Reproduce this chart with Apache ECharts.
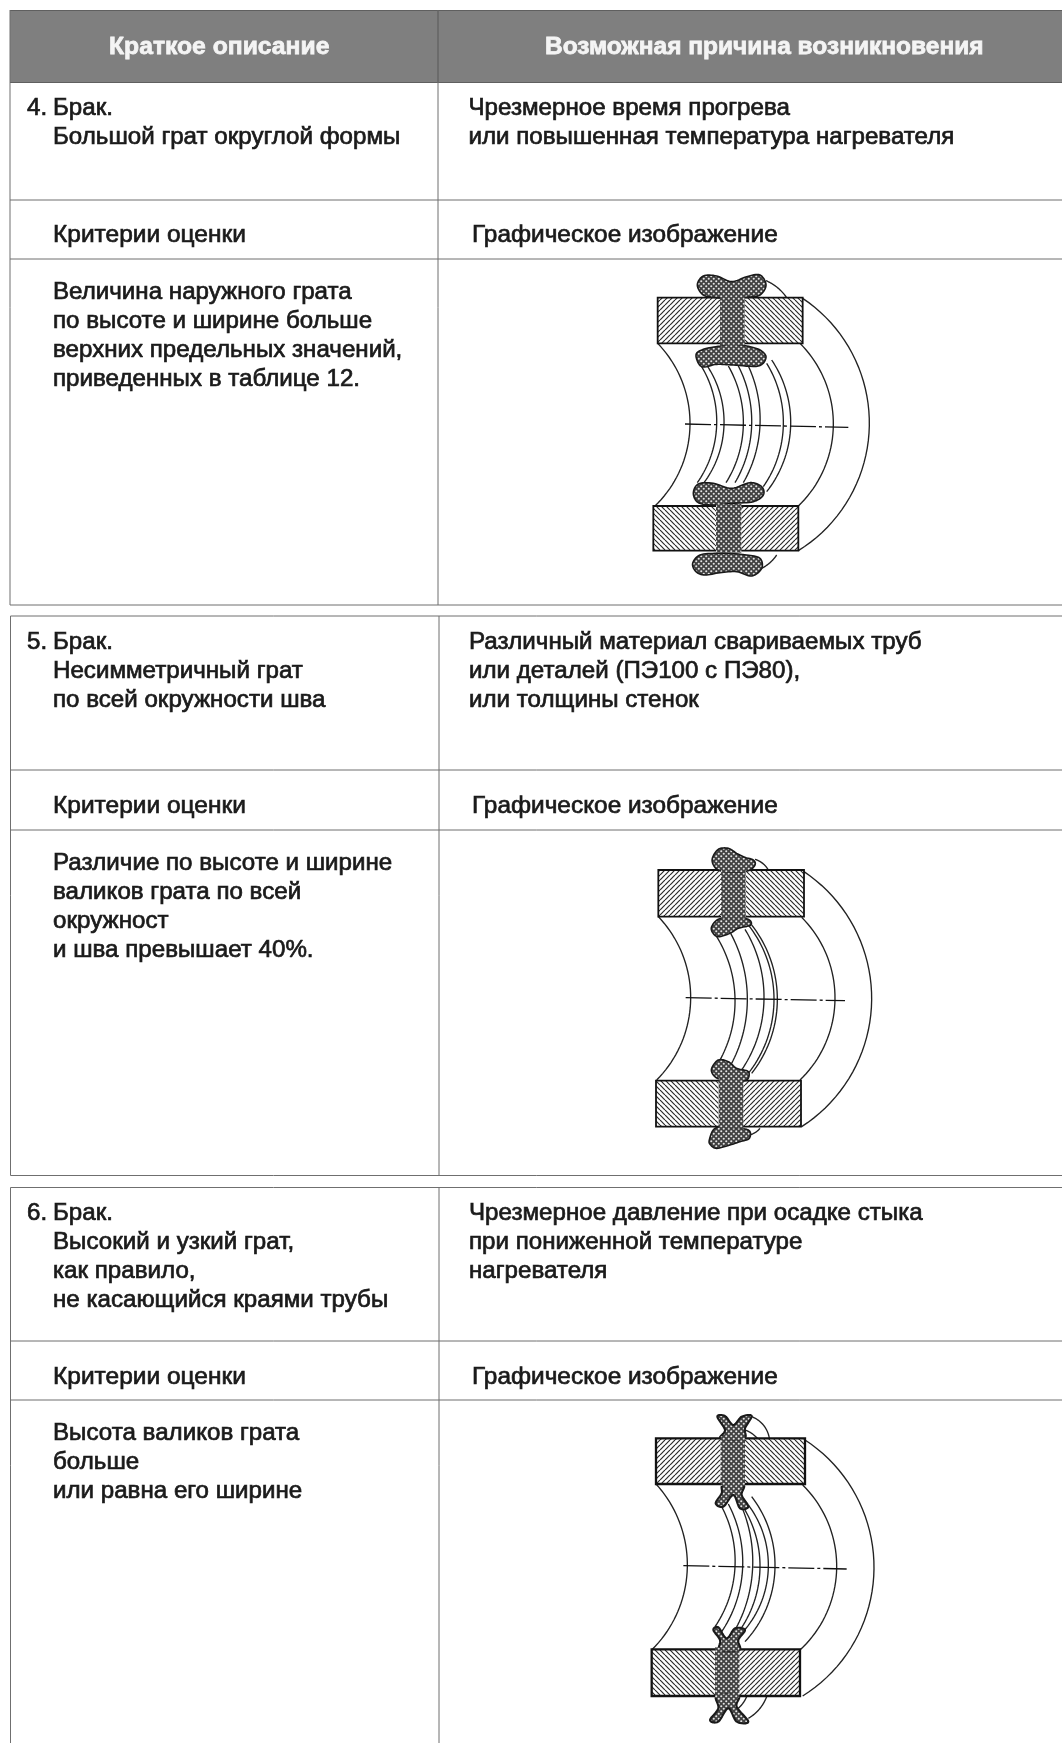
<!DOCTYPE html>
<html><head><meta charset="utf-8">
<style>html,body{margin:0;padding:0;background:#fff}#c{width:1062px;height:1743px;filter:blur(0.45px)}</style>
<script src="https://cdn.jsdelivr.net/npm/echarts@6/dist/echarts.min.js"></script>
</head><body><div id="c"></div>
<script>
const headers = ['Краткое описание','Возможная причина возникновения'];
const criteriaLabel = 'Критерии оценки';
const imageLabel = 'Графическое изображение';
const titles = [
  ['4. Брак.','Большой грат округлой формы'],
  ['5. Брак.','Несимметричный грат','по всей окружности шва'],
  ['6. Брак.','Высокий и узкий грат,','как правило,','не касающийся краями трубы']
];
const causes = [
  ['Чрезмерное время прогрева','или повышенная температура нагревателя'],
  ['Различный материал свариваемых труб','или деталей (ПЭ100 с ПЭ80),','или толщины стенок'],
  ['Чрезмерное давление при осадке стыка','при пониженной температуре','нагревателя']
];
const criteria = [
  ['Величина наружного грата','по высоте и ширине больше','верхних предельных значений,','приведенных в таблице 12.'],
  ['Различие по высоте и ширине','валиков грата по всей','окружност','и шва превышает 40%.'],
  ['Высота валиков грата','больше','или равна его ширине']
];
const blocks = [
  {top:10, r1:200, r2:259, bottom:605, b1:116, bc:243, bd:300, lx:10, dx:438, cx:468.5},
  {top:616, r1:770, r2:830, bottom:1175.5, b1:650, bc:814, bd:871, lx:10.5, dx:439, cx:469},
  {top:1187.5, r1:1341, r2:1400, bottom:null, b1:1221, bc:1385, bd:1441, lx:10.5, dx:439, cx:469}
];
const figures = [
 {o:[620,260], bw:1.6, top:[113,113,548,250], bot:[100,738,535,872], coreTop:[300,374], coreBot:[288,364],
  center:[195,492,685,502],
  arcs:[[548,115,748,495,535,872],[113,250,210,495,105,738],[540,250,640,495,535,738],
        [245,320,290,495,232,668],[262,318,312,495,252,668],[325,318,370,495,318,668],[355,318,395,495,345,668],[385,318,420,495,370,668],[440,310,490,495,430,680],[455,300,512,495,440,695],
        [438,62,475,85,500,113],[425,925,450,908,470,885]],
  blobs:[
   [[232,75],[250,48],[290,48],[335,65],[380,50],[420,45],[438,75],[420,105],[380,112],[335,115],[290,113],[250,105]],
   [[228,285],[250,268],[300,258],[335,252],[380,258],[420,270],[438,292],[415,318],[340,315],[290,313],[245,320]],
   [[220,700],[235,672],[280,670],[335,685],[390,668],[425,680],[430,705],[400,725],[340,730],[280,735],[235,728]],
   [[218,910],[240,885],[290,880],[330,880],[380,885],[420,895],[425,925],[395,948],[350,935],[300,938],[255,945],[228,935]]
  ]},
 {o:[620,830], bw:1.6, top:[115,120,552,260], bot:[108,752,543,890], coreTop:[303,377], coreBot:[296,370],
  center:[197,503,675,512],
  arcs:[[552,125,755,505,545,890],[115,260,212,505,110,750],[545,262,645,505,540,750],
        [290,320,345,505,300,690],[332,310,382,505,335,700],[375,298,432,505,365,720],[385,285,462,505,385,730],[395,285,472,505,395,730],
        [405,88,428,100,445,120],[388,915,405,908,420,895]],
  blobs:[
   [[277,85],[295,58],[325,55],[350,70],[375,82],[400,90],[405,105],[385,122],[340,125],[300,122],[282,108]],
   [[275,290],[295,268],[340,262],[385,268],[392,285],[355,295],[330,310],[295,320],[278,308]],
   [[275,715],[295,690],[325,695],[350,715],[385,725],[380,750],[340,752],[300,748],[280,735]],
   [[268,930],[285,895],[330,893],[385,900],[388,925],[360,935],[330,945],[290,955],[272,945]]
  ]},
 {o:[620,1400], bw:2.1, top:[108,115,555,252], bot:[95,748,540,888], coreTop:[302,375], coreBot:[285,358],
  center:[190,497,680,507],
  arcs:[[555,120,762,500,548,888],[108,252,202,500,97,748],[548,255,650,505,540,750],
        [305,320,345,500,285,680],[325,312,368,500,305,695],[365,320,398,500,345,690],[372,325,420,500,360,690],[385,315,445,500,365,700],[395,290,465,500,375,725],
        [395,50,430,75,448,115],[375,90,395,100,412,115],[385,955,420,925,440,890],[355,925,370,908,380,890]],
  blobs:[
   [[302,115],[315,90],[292,50],[315,48],[340,75],[365,50],[395,48],[375,85],[372,115]],
   [[310,255],[305,280],[287,310],[310,320],[340,285],[360,325],[385,320],[365,285],[370,255]],
   [[280,690],[295,682],[320,715],[345,685],[375,690],[355,720],[358,750],[300,750],[300,720]],
   [[290,888],[295,925],[270,960],[295,965],[325,925],[350,965],[385,965],[350,920],[355,888]]
  ]}
];

const INK='#1a1a1a', LINE='#6f6f6f', FONT='"Liberation Sans", Arial, sans-serif', FS=24.15, LABEL=24.5, LH=29;

function hatch(dir){
  const s=5,c=document.createElement('canvas');c.width=c.height=s;const g=c.getContext('2d');
  g.fillStyle='#fff';g.fillRect(0,0,s,s);g.strokeStyle='#2a2a2a';g.lineWidth=1.15;
  for(let k=-s;k<=s;k+=s){g.beginPath();
    if(dir>0){g.moveTo(k,s);g.lineTo(k+s,0);}else{g.moveTo(k,0);g.lineTo(k+s,s);}
    g.stroke();}
  return {image:c,repeat:'repeat'};
}
function weld(){
  const s=5,c=document.createElement('canvas');c.width=c.height=s;const g=c.getContext('2d');
  g.fillStyle='#404040';g.fillRect(0,0,s,s);g.fillStyle='#e4e4e4';
  [[1.25,1.25],[3.75,3.75]].forEach(p=>{g.beginPath();g.arc(p[0],p[1],1.05,0,7);g.fill();});
  return {image:c,repeat:'repeat'};
}
const hatchA=hatch(1),hatchB=hatch(-1),weldFill=weld();

function arcPoints(a){
  const [x0,y0,x1,y1,x2,y2]=a;
  const d=2*(x0*(y1-y2)+x1*(y2-y0)+x2*(y0-y1));
  const n0=x0*x0+y0*y0,n1=x1*x1+y1*y1,n2=x2*x2+y2*y2;
  const ux=(n0*(y1-y2)+n1*(y2-y0)+n2*(y0-y1))/d, uy=(n0*(x2-x1)+n1*(x0-x2)+n2*(x1-x0))/d;
  const r=Math.hypot(x0-ux,y0-uy);
  let t0=Math.atan2(y0-uy,x0-ux),t1=Math.atan2(y1-uy,x1-ux),t2=Math.atan2(y2-uy,x2-ux);
  const norm=t=>{while(t<0)t+=2*Math.PI;while(t>=2*Math.PI)t-=2*Math.PI;return t;};
  let dm=norm(t1-t0),de=norm(t2-t0);
  const sweep=dm<de?de:de-2*Math.PI;
  const out=[];for(let i=0;i<=40;i++){const t=t0+sweep*i/40;out.push([ux+r*Math.cos(t),uy+r*Math.sin(t)]);}
  return out;
}
function smoothClosed(pts){
  const n=pts.length,out=[];
  for(let i=0;i<n;i++){
    const p0=pts[(i-1+n)%n],p1=pts[i],p2=pts[(i+1)%n],p3=pts[(i+2)%n];
    for(let k=0;k<8;k++){const t=k/8,t2=t*t,t3=t2*t;
      out.push([0,1].map(j=>0.5*(2*p1[j]+(p2[j]-p0[j])*t+(2*p0[j]-5*p1[j]+4*p2[j]-p3[j])*t2+(3*p1[j]-p0[j]-3*p2[j]+p3[j])*t3)));}
  }
  return out;
}

const els=[];
function hline(x1,x2,y,c,w){els.push({type:'line',shape:{x1,y1:y,x2,y2:y},style:{stroke:c||LINE,lineWidth:w||1}});}
function vline(x,y1,y2,c,w){els.push({type:'line',shape:{x1:x,y1,x2:x,y2},style:{stroke:c||LINE,lineWidth:w||1}});}
function text(s,x,b,opt){opt=opt||{};const size=opt.size||FS;
  els.push({type:'text',style:{text:s,x,y:b+2-0.9*size,fill:opt.fill||INK,font:(opt.weight||'normal')+' '+size+'px '+FONT,
    textAlign:'left',stroke:opt.fill||INK,lineWidth:opt.sw===undefined?0.7:opt.sw}});}
function lines(arr,x,b){arr.forEach((s,i)=>text(s,x,b+i*LH));}

els.push({type:'rect',shape:{x:10,y:10,width:1052,height:72.5},style:{fill:'#7f7f7f'}});
hline(10,1062,10.5,'#5f5f5f',1);hline(10,1062,82.5,'#5f5f5f',1);vline(438,10,82,'#555',1);
text(headers[0],109,55,{fill:'#f4f4f4',weight:'bold',size:24.7,sw:0.8});
text(headers[1],545,55,{fill:'#f4f4f4',weight:'bold',size:24.5,sw:0.8});

blocks.forEach((b,i)=>{
  const end=b.bottom===null?1743:b.bottom;
  if(i>0)hline(b.lx,1062,b.top);
  hline(b.lx,1062,b.r1);hline(b.lx,1062,b.r2);
  if(b.bottom!==null)hline(b.lx,1062,b.bottom);
  vline(b.lx,b.top,end);vline(b.dx,b.top,end);
  const m=titles[i][0].split(' ');
  text(m[0],27,b.b1);text(m[1],53,b.b1);
  lines(titles[i].slice(1),53,b.b1+LH);
  lines(causes[i],b.cx,b.b1);
  text(criteriaLabel,53,b.bc,{size:LABEL});text(imageLabel,472,b.bc,{size:24.4});
  lines(criteria[i],53,b.bd);
});

figures.forEach(f=>{
  const P=p=>[f.o[0]+p[0]/3,f.o[1]+p[1]/3];
  const poly=(pts,style,type)=>els.push({type:type||'polyline',shape:{points:pts.map(P)},style});
  f.arcs.forEach(a=>poly(arcPoints(a),{stroke:'#222',lineWidth:1.35,fill:null}));
  [[f.top,f.coreTop,hatchA,hatchB],[f.bot,f.coreBot,hatchB,hatchA]].forEach(([r,core,l,rt])=>{
    const rect=(x0,x1,style)=>{const a=P([x0,r[1]]),b=P([x1,r[3]]);
      els.push({type:'rect',shape:{x:a[0],y:a[1],width:b[0]-a[0],height:b[1]-a[1]},style});};
    rect(r[0],core[0],{fill:l});
    rect(core[1],r[2],{fill:rt});
    rect(core[0],core[1],{fill:weldFill});
    rect(r[0],r[2],{fill:null,stroke:'#111',lineWidth:f.bw+0.2});
  });
  const coreLink=(c,y0,y1)=>{const a=P([c[0],y0]),b=P([c[1],y1]);
    els.push({type:'rect',shape:{x:a[0],y:a[1],width:b[0]-a[0],height:b[1]-a[1]},style:{fill:weldFill}});};
  f.blobs.forEach(bl=>poly(smoothClosed(bl),{fill:weldFill,stroke:'#1a1a1a',lineWidth:f.bw,lineJoin:'round'},'polygon'));
  coreLink(f.coreTop,f.top[1]-6,f.top[1]+6);coreLink(f.coreTop,f.top[3]-6,f.top[3]+6);
  coreLink(f.coreBot,f.bot[1]-6,f.bot[1]+6);coreLink(f.coreBot,f.bot[3]-6,f.bot[3]+6);
  const c=f.center;
  poly([[c[0],c[1]],[c[2],c[3]]],{stroke:'#111',lineWidth:1.3,lineDash:[26,3,3,3],fill:null});
});

const chart=echarts.init(document.getElementById('c'),null,{renderer:'canvas',width:1062,height:1743});
chart.setOption({animation:false,backgroundColor:'#fff',graphic:{elements:els}});
</script></body></html>
